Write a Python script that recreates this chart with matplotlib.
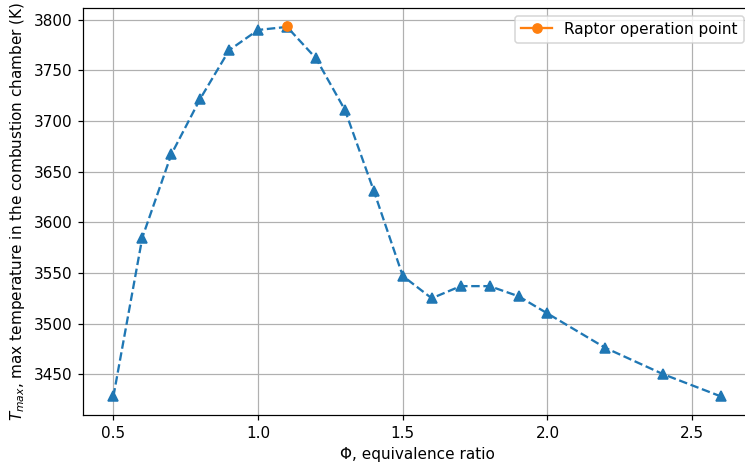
import matplotlib
matplotlib.use("Agg")
import matplotlib.pyplot as plt

# equivalence ratio and max chamber temperature
phi = [0.5, 0.6, 0.7, 0.8, 0.9, 1.0, 1.1, 1.2, 1.3, 1.4, 1.5,
       1.6, 1.7, 1.8, 1.9, 2.0, 2.2, 2.4, 2.6]
t_max = [3428, 3585, 3667, 3722, 3770, 3790, 3793, 3762, 3711, 3631, 3547,
         3525, 3537, 3537, 3527, 3510, 3476, 3450, 3428]

# Raptor operation point
raptor_phi = [1.1]
raptor_t = [3793.4]


def main():
    dpi = 110
    fig = plt.figure(figsize=(745 / dpi, 470 / dpi), dpi=dpi)
    # right spine sits just outside the saved image in the reference
    ax = fig.add_axes([83 / 745, 55 / 470, 668.5 / 745, 407 / 470])
    ax.plot(phi, t_max, "^--", color="tab:blue")
    ax.plot(raptor_phi, raptor_t, "o-", color="tab:orange",
            label="Raptor operation point")
    ax.set_xlabel("Φ, equivalence ratio")
    ax.set_ylabel("$T_{max}$, max temperature in the combustion chamber (K)")
    ax.grid(True)
    ax.legend(loc="upper right")
    fig.savefig("out.png", dpi=dpi)


if __name__ == "__main__":
    main()
